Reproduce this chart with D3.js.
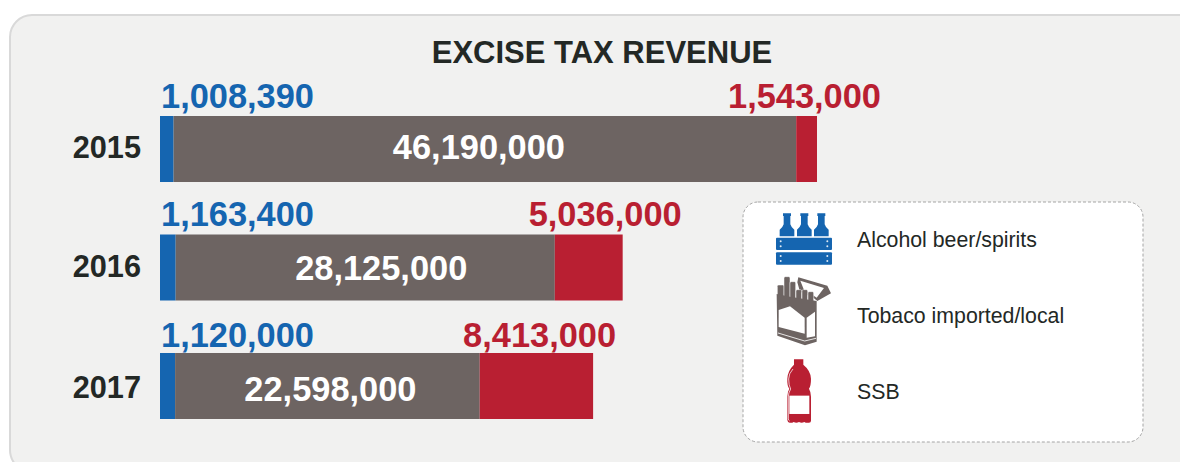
<!DOCTYPE html>
<html>
  <head>
    <meta charset="utf-8">
    <title>Excise tax revenue</title>
    <script src="https://d3js.org/d3.v7.min.js"></script>
    <style>
      html, body { margin: 0; background: #fff; }
      svg { display: block; }
      text { font-family: "Liberation Sans", Arial, sans-serif; }
    </style>
  </head>
  <body>
    <div id="chart"></div>
    <script>
      // values
      const years = ["2015", "2016", "2017"];
      const alcohol = [1008390, 1163400, 1120000];
      const tobacco = [46190000, 28125000, 22598000];
      const ssb = [1543000, 5036000, 8413000];
      const legendLabels = ["Alcohol beer/spirits", "Tobaco imported/local", "SSB"];

      // hand placed label offsets, the original doesn't line them up with the bars
      const tobaccoNudge = [-6, 16, 3];
      const ssbNudge = [64, 59, 23];
      const yearLift = [0, 1, 3];
      const outerLift = [0, 0, 2];
      const innerLift = [0, 3, 5];

      const blue = "#1565b0", grey = "#6d6462", red = "#b91f32", ink = "#232825";
      const width = 1180, height = 462;

      const svg = d3.select("#chart").append("svg")
        .attr("width", width)
        .attr("height", height);

      // background panel, runs off the right and bottom edges
      svg.append("rect")
        .attr("x", 10).attr("y", 15)
        .attr("width", 1200).attr("height", 457)
        .attr("rx", 22)
        .attr("fill", "#f1f1f0")
        .attr("stroke", "#d9d9d9")
        .attr("stroke-width", 2);

      svg.append("text")
        .attr("x", 602).attr("y", 63)
        .attr("text-anchor", "middle")
        .attr("font-size", 31)
        .attr("font-weight", "bold")
        .attr("fill", ink)
        .text("EXCISE TAX REVENUE");

      // scales
      const x = d3.scaleLinear().domain([0, 48741000]).range([160, 817]);
      const y = d3.scaleBand().domain(years).range([116, 419]).paddingInner(0.443);
      const fmt = d3.format(",");

      const rows = years.map(function(year, i) {
        return { year: year, a: alcohol[i], t: tobacco[i], s: ssb[i], i: i };
      });

      const row = svg.selectAll(".row")
        .data(rows)
        .enter().append("g")
          .classed("row", true);

      // stacked bars
      row.append("rect")
        .attr("x", x(0))
        .attr("y", d => y(d.year))
        .attr("width", d => x(d.a) - x(0))
        .attr("height", y.bandwidth())
        .attr("fill", blue);
      row.append("rect")
        .attr("x", d => x(d.a))
        .attr("y", d => y(d.year))
        .attr("width", d => x(d.a + d.t) - x(d.a))
        .attr("height", y.bandwidth())
        .attr("fill", grey);
      row.append("rect")
        .attr("x", d => x(d.a + d.t))
        .attr("y", d => y(d.year))
        .attr("width", d => x(d.a + d.t + d.s) - x(d.a + d.t))
        .attr("height", y.bandwidth())
        .attr("fill", red);

      // year labels
      row.append("text")
        .attr("x", 141)
        .attr("y", d => y(d.year) + 42 + yearLift[d.i])
        .attr("text-anchor", "end")
        .attr("font-size", 30.7)
        .attr("font-weight", "bold")
        .attr("fill", ink)
        .text(d => d.year);

      // value labels
      row.append("text")
        .attr("x", 161)
        .attr("y", d => y(d.year) - 8 + outerLift[d.i])
        .attr("font-size", 34.4)
        .attr("font-weight", "bold")
        .attr("fill", blue)
        .text(d => fmt(d.a));
      row.append("text")
        .attr("x", d => x(d.a) + (x(d.a + d.t) - x(d.a)) / 2 + tobaccoNudge[d.i])
        .attr("y", d => y(d.year) + 43 + innerLift[d.i])
        .attr("text-anchor", "middle")
        .attr("font-size", 34.4)
        .attr("font-weight", "bold")
        .attr("fill", "#fff")
        .text(d => fmt(d.t));
      row.append("text")
        .attr("x", d => x(d.a + d.t + d.s) + ssbNudge[d.i])
        .attr("y", d => y(d.year) - 8 + outerLift[d.i])
        .attr("text-anchor", "end")
        .attr("font-size", 34.4)
        .attr("font-weight", "bold")
        .attr("fill", red)
        .text(d => fmt(d.s));

      // legend box
      svg.append("rect")
        .attr("x", 743).attr("y", 202)
        .attr("width", 400).attr("height", 240)
        .attr("rx", 15)
        .attr("fill", "#fff")
        .attr("stroke", "#a5a5a5")
        .attr("stroke-dasharray", "3 2");

      svg.selectAll(".legend-label")
        .data(legendLabels)
        .enter().append("text")
          .classed("legend-label", true)
          .attr("x", 857)
          .attr("y", (d, i) => 247 + i * 76)
          .attr("font-size", 21.3)
          .attr("fill", ink)
          .text(d => d);

      // icons, drawn in the 3x units of a crop starting at 740,195
      const icons = svg.append("g")
        .attr("transform", "translate(740,195) scale(0.3333)");

      // crate of bottles
      [141, 193, 244].forEach(function(cx) {
        icons.append("path")
          .attr("fill", blue)
          .attr("d", `M${cx - 12},55 h24 v8 h-2 v25 q2,8 12,16 v20 h-44 v-20 q10,-8 12,-16 v-25 h-2 z`);
      });
      [128, 172].forEach(function(top) {
        icons.append("rect")
          .attr("x", 108).attr("y", top)
          .attr("width", 168).attr("height", 37)
          .attr("rx", 3)
          .attr("fill", blue);
        [122, 262].forEach(function(cx) {
          [top + 11, top + 26].forEach(function(cy) {
            icons.append("circle")
              .attr("cx", cx).attr("cy", cy).attr("r", 3)
              .attr("fill", "#dfe9f4");
          });
        });
      });

      // cigarette pack: lid, cigarettes, then the box in front
      icons.append("path")
        .attr("fill", grey)
        .attr("d", "M172,262 L175,247 L262,272 L273,295 L232,318 L222,310 L180,290 Z");
      icons.append("path")
        .attr("fill", "#fff")
        .attr("d", "M181,257 L252,279 L230,308 L206,292 L192,285 Z");
      [[112, 270, 20, 45], [132, 245, 18, 70], [150, 260, 17, 55], [168, 284, 17, 36], [186, 284, 17, 36], [204, 290, 17, 32]].forEach(function(c) {
        icons.append("rect")
          .attr("x", c[0]).attr("y", c[1])
          .attr("width", c[2]).attr("height", c[3])
          .attr("rx", 4)
          .attr("fill", grey)
          .attr("stroke", "#fff")
          .attr("stroke-width", 1.5);
      });
      icons.append("path")
        .attr("fill", grey)
        .attr("d", "M110,297 L150,305 L230,318 L230,440 L195,451 L112,422 Z");
      icons.append("path")
        .attr("fill", "#fff")
        .attr("d", "M116,345 L150,334 L194,368 L194,416 L116,396 Z");
      icons.append("path")
        .attr("fill", "#fff")
        .attr("d", "M200,368 L225,350 L225,424 L200,428 Z");
      icons.append("path")
        .attr("fill", "none")
        .attr("stroke", "#fff")
        .attr("stroke-width", 2.5)
        .attr("d", "M114,414 L194,438 L228,430");

      // bottle
      icons.append("path")
        .attr("fill", red)
        .attr("d", "M162,493 h28 v16 q22,18 23,42 q0,22 -6,30 q6,10 6,24 v72 q0,6 -6,6 q-8,2 -14,-2 q-8,4 -16,0 q-8,4 -16,0 q-6,4 -12,2 q-6,0 -7,-8 v-70 q0,-14 6,-24 q-7,-8 -6,-30 q1,-24 20,-42 z");
      icons.append("path")
        .attr("fill", "none")
        .attr("stroke", "#fff")
        .attr("stroke-width", 2.2)
        .attr("d", "M159,522 q-13,14 -13,30 q0,20 6,30 q-7,12 -7,24 v66 q0,4 4,6");
      icons.append("rect")
        .attr("x", 148).attr("y", 602)
        .attr("width", 60).attr("height", 55)
        .attr("fill", "#fff");
    </script>
  </body>
</html>
